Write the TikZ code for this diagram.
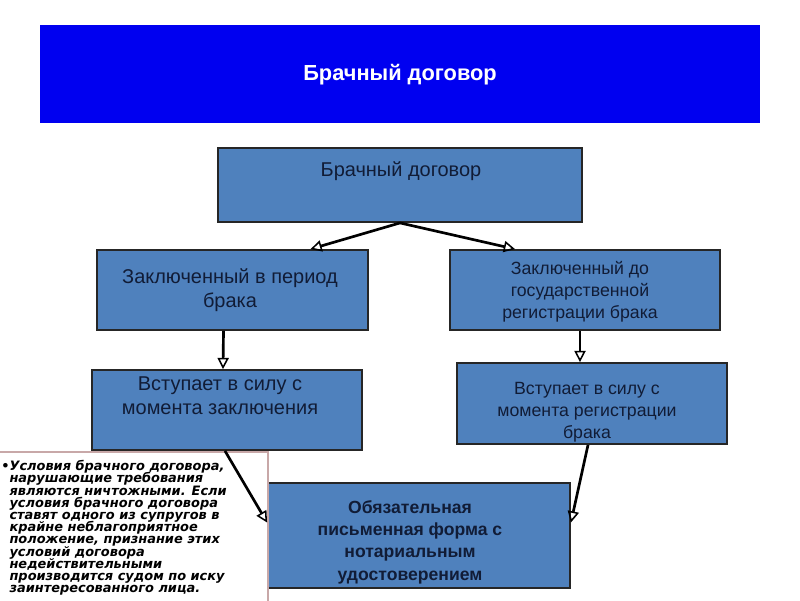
\documentclass[tikz,border=0pt]{standalone}
\usepackage{fontspec}
\setmainfont{Liberation Sans}
\newfontfamily\notefont{DejaVu Sans}
\definecolor{hdrBlue}{HTML}{0000F0}
\definecolor{boxBlue}{HTML}{4F81BD}
\definecolor{boxText}{HTML}{111C36}
\definecolor{noteLine}{HTML}{C8A8A8}
\usetikzlibrary{arrows.meta, positioning, fit, calc}
\setlength{\lineskiplimit}{-20pt}

\tikzset{
  box/.style={draw=black!85, line width=1.3pt, fill=boxBlue, inner sep=0pt},
  boxtxt/.style={text=boxText, align=center, inner sep=0pt,
                 font=\fontsize{14.2}{17}\selectfont},
  link/.style={draw=black, line width=1.9pt,
               -{Triangle[open, length=8pt, width=8pt, line width=1.1pt]}}
}

\begin{document}
\begin{tikzpicture}[x=0.025cm, y=-0.025cm]
\useasboundingbox (0,0) rectangle (800,600);

% title bar
\node[fill=hdrBlue, inner sep=0pt, fit={(40,25) (760,123)}] (hdr) {};
\node[text=white, inner sep=0pt, font=\fontsize{15.5}{18}\selectfont\bfseries]
  (hdrtxt) at (400,75) {Брачный договор};

% boxes
\node[box, fit={(218,148) (582,222)}] (dog) {};
\node[boxtxt] (dogtxt) at (401,171) {Брачный договор};

\node[box, fit={(97,250) (368,330)}] (inmar) {};
\node[boxtxt] (inmartxt) at (230,290) {Заключенный в период\\брака};

\node[box, fit={(450,250) (720,330)}] (premar) {};
\node[boxtxt, font=\fontsize{12.6}{15.6}\selectfont] (premartxt) at (580,292)
  {Заключенный до\\государственной\\регистрации брака};

\node[box, fit={(92,370) (362,450)}] (effconc) {};
\node[boxtxt] (effconctxt) at (220,396) {Вступает в силу с\\момента заключения};

\node[box, fit={(457,363) (727,444)}] (effreg) {};
\node[boxtxt, font=\fontsize{12.6}{15.8}\selectfont] (effregtxt) at (587,412)
  {Вступает в силу с\\момента регистрации\\брака};

\node[box, fit={(268,483) (570,588)}] (form) {};
\node[boxtxt, font=\fontsize{12.5}{15.9}\selectfont\bfseries] (formtxt) at (410,542)
  {Обязательная\\письменная форма с\\нотариальным\\удостоверением};

% side note
\node[draw=noteLine, line width=0.8pt, fill=white, inner sep=0pt,
      fit={(-2,452) (268,602)}] (note) {};
\node[anchor=north west, inner sep=0pt, align=left,
      font=\notefont\fontsize{9.2}{8.7}\selectfont\bfseries\itshape]
  (notetxt) at (1,460)
  {•Условия брачного договора,\\
   \hphantom{•}нарушающие требования\\
   \hphantom{•}являются ничтожными. Если\\
   \hphantom{•}условия брачного договора\\
   \hphantom{•}ставят одного из супругов в\\
   \hphantom{•}крайне неблагоприятное\\
   \hphantom{•}положение, признание этих\\
   \hphantom{•}условий договора\\
   \hphantom{•}недействительными\\
   \hphantom{•}производится судом по иску\\
   \hphantom{•}заинтересованного лица.};

% connectors
\coordinate (split) at (dog.south);
\draw[link] (split) -- ($(inmar.north)+(78,0)$);
\draw[link] (split) -- ($(premar.north)+(-70,0)$);
\draw[link] ($(inmar.south)+(-9,0)$) -- ($(effconc.north)+(-4,0)$);
\draw[link] ($(premar.south)+(-5,0)$) -- ($(effreg.north)+(-12,0)$);
\draw[link] ($(effconc.south)+(-2,0)$) -- ($(form.west)+(0,-13)$);
\draw[link] ($(effreg.south)+(-4,0)$) -- ($(form.east)+(0,-13)$);
\end{tikzpicture}
\end{document}
